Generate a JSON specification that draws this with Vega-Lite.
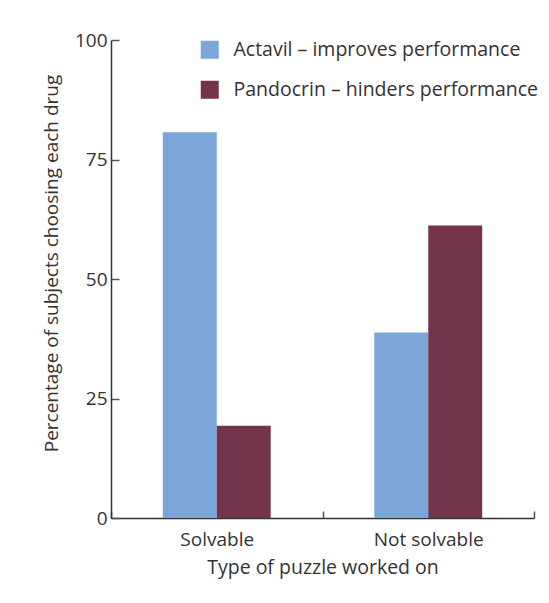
{
  "$schema": "https://vega.github.io/schema/vega-lite/v6.json",
  "width": 423,
  "height": 478,
  "autosize": "none",
  "padding": {"left": 111, "top": 40, "right": 15, "bottom": 85},
  "background": "white",
  "data": {
    "values": [
      {"puzzle": "Solvable", "drug": "Actavil – improves performance", "pct": 80.7},
      {"puzzle": "Solvable", "drug": "Pandocrin – hinders performance", "pct": 19.3},
      {"puzzle": "Not solvable", "drug": "Actavil – improves performance", "pct": 38.8},
      {"puzzle": "Not solvable", "drug": "Pandocrin – hinders performance", "pct": 61.2}
    ]
  },
  "mark": {"type": "bar"},
  "encoding": {
    "x": {
      "field": "puzzle",
      "type": "nominal",
      "sort": ["Solvable", "Not solvable"],
      "scale": {"paddingInner": 0, "paddingOuter": 0},
      "axis": {
        "title": "Type of puzzle worked on",
        "labelAngle": 0,
        "tickBand": "extent",
        "tickSize": -7,
        "labelPadding": 19,
        "titlePadding": 9,
        "labelFontSize": 19,
        "titleFontSize": 19.5
      }
    },
    "xOffset": {
      "field": "drug",
      "type": "nominal",
      "scale": {"paddingInner": 0, "paddingOuter": 0.96}
    },
    "y": {
      "field": "pct",
      "type": "quantitative",
      "scale": {"domain": [0, 100]},
      "axis": {
        "values": [0, 25, 50, 75, 100],
        "title": "Percentage of subjects choosing each drug",
        "grid": false,
        "tickSize": -8,
        "labelPadding": 12,
        "titlePadding": 13,
        "titleY": 223,
        "labelFontSize": 19,
        "titleFontSize": 19
      }
    },
    "color": {
      "field": "drug",
      "type": "nominal",
      "scale": {"range": ["#7CA6D8", "#72334B"]},
      "legend": {
        "title": null,
        "orient": "none",
        "legendX": 89,
        "legendY": 0,
        "symbolType": "square",
        "symbolSize": 324,
        "symbolStrokeWidth": 0,
        "rowPadding": 19,
        "labelOffset": 14,
        "labelFontSize": 19.5,
        "labelColor": "#333333",
        "labelLimit": 400
      }
    }
  },
  "config": {
    "view": {"stroke": null},
    "font": "Open Sans",
    "axis": {
      "domainColor": "#333333",
      "domainWidth": 1.5,
      "tickColor": "#555555",
      "tickWidth": 1.5,
      "labelColor": "#333333",
      "titleColor": "#333333",
      "titleFontWeight": "normal"
    }
  }
}
